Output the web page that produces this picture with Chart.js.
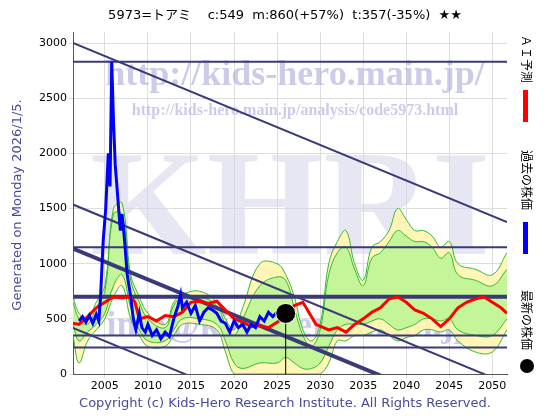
<!DOCTYPE html>
<html><head><meta charset="utf-8">
<script src="https://cdn.jsdelivr.net/npm/chart.js@4"></script>
<style>body{margin:0;background:#fff}#wrap{width:560px;height:420px}</style>
</head><body><div id="wrap"><canvas id="c" width="560" height="420"></canvas></div>
<script>
// data (x = year)
const yTicks = [0, 500, 1000, 1500, 2000, 2500, 3000];
const xTicks = [2005, 2010, 2015, 2020, 2025, 2030, 2035, 2040, 2045, 2050];

const pastYears = [2002.0,2002.4,2002.8,2003.2,2003.6,2004.0,2004.3,2004.5,2004.8,2005.1,2005.4,2005.6,2005.8,2006.0,2006.2,2006.4,2006.6,2006.8,2007.0,2007.3,2007.6,2008.0,2008.3,2008.6,2009.0,2009.3,2009.7,2010.0,2010.5,2011.0,2011.5,2012.0,2012.5,2013.0,2013.5,2013.8,2014.0,2014.5,2015.0,2015.5,2016.0,2016.5,2017.0,2017.5,2018.0,2018.5,2019.0,2019.5,2020.0,2020.5,2021.0,2021.5,2022.0,2022.5,2023.0,2023.5,2024.0,2024.5,2025.0,2025.5];
const pastPrice = [480,520,470,530,460,540,480,700,1200,1500,2000,1700,2830,2300,1900,1700,1500,1300,1450,1200,900,700,500,400,550,420,380,450,350,400,320,380,340,500,620,720,600,650,550,620,480,560,600,580,550,480,460,380,480,420,450,380,450,420,520,480,560,520,560,549];

const aiYears = [2001.3,2002,2003,2004,2005,2006,2007,2008,2008.5,2009,2010,2011,2012,2013,2014,2015,2016,2017,2018,2019,2020,2021,2022,2023,2024,2025,2025.6,2027,2028,2029,2029.5,2031,2032,2033,2034,2035,2036,2037,2038,2039,2040,2041,2042,2043,2044,2045,2046,2047,2048,2049,2050,2051,2051.7];
const aiPrice = [460,450,520,600,650,700,690,700,650,500,520,480,530,520,560,650,660,640,660,580,500,470,430,440,420,470,500,620,650,520,450,400,420,380,450,500,560,600,680,700,650,580,550,500,430,500,600,650,680,700,650,600,550];

const bandYears = [2001.3,2002,2003,2004,2005,2006,2007,2008,2009,2010,2012,2013,2014,2016,2018,2019,2020,2021,2023,2025,2026,2027,2028,2029,2030,2031,2032,2033,2034,2035,2036,2037,2038,2039,2040,2041,2042,2043,2044,2045,2046,2048,2050,2051.7];
const outerHigh = [700,550,500,650,800,1500,1550,900,700,550,450,650,720,750,650,500,400,600,1000,1000,900,700,400,300,450,1000,1200,1300,1000,850,1150,1200,1300,1500,1400,1300,1300,1250,1150,1200,1000,950,900,1100];
const outerLow = [350,100,300,400,500,700,800,500,350,250,250,350,450,450,400,200,0,0,0,0,0,0,0,0,0,100,300,300,350,350,380,400,350,300,330,350,400,400,380,400,300,200,200,400];
const innerHigh = [650,500,450,600,750,1450,1450,850,650,500,420,620,700,700,620,450,350,500,800,880,850,600,350,250,400,900,1100,1150,950,800,1050,1100,1200,1300,1250,1200,1200,1150,1050,1100,900,850,800,950];
const innerLow = [450,300,380,450,550,800,900,600,400,300,300,400,500,500,450,300,100,50,100,100,150,100,50,50,100,250,400,450,450,450,480,500,450,400,420,450,500,500,480,500,400,350,350,500];

const hLines = [2830, 1150, 350, 240];
const diagStarts = [3000, 1536, 1136, 418]; // value at 2001.3, slope -32.2 per year
const latest = [2026, 549];

const xMin = 2001.3, xMax = 2051.7, slope = -32.2;

function pts(xs, ys) { return xs.map((x, i) => ({ x: x, y: ys[i] })); }
function line(y0) { return [{ x: xMin, y: y0 }, { x: xMax, y: y0 + slope * (xMax - xMin) }]; }

// lower order = drawn on top
const datasets = [];
datasets.push({ data: pts(bandYears, outerHigh), order: 20, borderColor: '#33b833', borderWidth: 1, backgroundColor: 'rgba(255,245,175,0.9)', fill: '+1', pointRadius: 0, tension: 0.4 });
datasets.push({ data: pts(bandYears, outerLow), order: 19, borderColor: '#33b833', borderWidth: 1, pointRadius: 0, tension: 0.4, fill: false });
datasets.push({ data: pts(bandYears, innerHigh), order: 18, borderColor: '#33b833', borderWidth: 1, backgroundColor: 'rgba(190,245,150,0.9)', fill: '+1', pointRadius: 0, tension: 0.4 });
datasets.push({ data: pts(bandYears, innerLow), order: 17, borderColor: '#33b833', borderWidth: 1, pointRadius: 0, tension: 0.4, fill: false });
hLines.forEach(v => datasets.push({ data: [{ x: xMin, y: v }, { x: xMax, y: v }], order: 10, borderColor: '#3a3a7a', borderWidth: 2, pointRadius: 0 }));
datasets.push({ data: [{ x: xMin, y: 700 }, { x: xMax, y: 700 }], order: 10, borderColor: '#3a3a7a', borderWidth: 4, pointRadius: 0 });
diagStarts.forEach((v, i) => datasets.push({ data: line(v), order: 10, borderColor: '#3a3a7a', borderWidth: i == 2 ? 4 : 2, pointRadius: 0 }));
datasets.push({ data: pts(aiYears, aiPrice), order: 4, borderColor: '#ff0000', borderWidth: 3, pointRadius: 0 });
datasets.push({ data: pts(pastYears, pastPrice), order: 3, borderColor: '#0000ff', borderWidth: 3, pointRadius: 0 });
datasets.push({ data: [{ x: latest[0], y: 0 }, { x: latest[0], y: latest[1] }], order: 2, borderColor: '#000', borderWidth: 1, pointRadius: 0 });
datasets.push({ data: [{ x: latest[0], y: latest[1] }], order: 1, pointRadius: 10, pointBackgroundColor: '#000', pointBorderColor: '#fff', pointBorderWidth: 1, showLine: false });

const decor = {
  id: 'decor',
  beforeDatasetsDraw(chart) {
    const { ctx, chartArea: a } = chart;
    ctx.save();
    ctx.beginPath(); ctx.rect(a.left, a.top, a.right - a.left, a.bottom - a.top); ctx.clip();
    ctx.fillStyle = 'rgba(215,215,235,0.6)';
    ctx.font = 'bold 150px "Liberation Serif"'; ctx.textAlign = 'center'; ctx.textBaseline = 'middle';
    ctx.fillText('KHRI', (a.left + a.right) / 2, 215);
    ctx.fillStyle = 'rgba(170,170,220,0.6)';
    ctx.font = 'bold 36px "Liberation Serif"';
    ctx.fillText('http://kids-hero.main.jp/', (a.left + a.right) / 2 + 5, 76);
    ctx.font = 'bold 16px "Liberation Serif"';
    ctx.fillText('http://kids-hero.main.jp/analysis/code5973.html', (a.left + a.right) / 2 + 5, 111);
    ctx.font = 'bold 36px "Liberation Serif"';
    ctx.fillText('info@kids-hero.main.jp', (a.left + a.right) / 2, 327);
    ctx.restore();
  },
  afterDraw(chart) {
    const { ctx } = chart;
    ctx.save();
    ctx.fillStyle = '#000'; ctx.textAlign = 'center'; ctx.textBaseline = 'middle';
    ctx.font = '13px "DejaVu Sans", "Noto Sans CJK JP"';
    ctx.fillText('5973=トアミ    c:549  m:860(+57%)  t:357(-35%)  ★★', 285, 16);
    ctx.fillStyle = '#4a4a9a'; ctx.font = '13px "DejaVu Sans"';
    ctx.fillText('Copyright (c) Kids-Hero Research Institute. All Rights Reserved.', 285, 404);
    ctx.save(); ctx.translate(18, 205); ctx.rotate(-Math.PI / 2);
    ctx.fillText('Generated on Monday 2026/1/5.', 0, 0); ctx.restore();
    // right legend
    ctx.font = '12px "Noto Sans CJK JP"';
    const items = [['ＡＩ予測', 55], ['過去の株価', 170], ['最新の株価', 310]];
    items.forEach(it => {
      ctx.save(); ctx.translate(527, it[1]); ctx.rotate(Math.PI / 2);
      ctx.textAlign = 'left'; ctx.fillStyle = '#000'; ctx.fillText(it[0], -20, 0); ctx.restore();
    });
    ctx.fillStyle = '#ff0000'; ctx.fillRect(523, 90, 5, 32);
    ctx.fillStyle = '#0000ff'; ctx.fillRect(523, 222, 5, 32);
    ctx.fillStyle = '#000'; ctx.beginPath(); ctx.arc(527, 366, 7, 0, Math.PI * 2); ctx.fill();
    ctx.restore();
  }
};

new Chart('c', {
  type: 'line',
  data: { datasets: datasets },
  plugins: [decor],
  options: {
    responsive: false, animation: false,
    layout: { padding: { top: 32, right: 53, left: 0, bottom: 0 } },
    plugins: { legend: { display: false }, tooltip: { enabled: false } },
    scales: {
      x: {
        type: 'linear', min: xMin, max: xMax,
        afterFit: s => { s.height = 46; },
        afterBuildTicks: s => { s.ticks = xTicks.map(v => ({ value: v })); },
        grid: { color: '#ddd', tickLength: 4 },
        border: { color: '#555' },
        ticks: { color: '#000', font: { family: 'DejaVu Sans', size: 11 }, maxRotation: 0, padding: 2, callback: v => String(v) }
      },
      y: {
        min: 0, max: 3100,
        afterFit: s => { s.width = 73; },
        afterBuildTicks: s => { s.ticks = yTicks.map(v => ({ value: v })); },
        grid: { color: '#ddd', tickLength: 4 },
        border: { color: '#555' },
        ticks: { color: '#000', font: { family: 'DejaVu Sans', size: 11 }, padding: 2, callback: v => String(v) }
      }
    }
  }
});
</script>
</body></html>
